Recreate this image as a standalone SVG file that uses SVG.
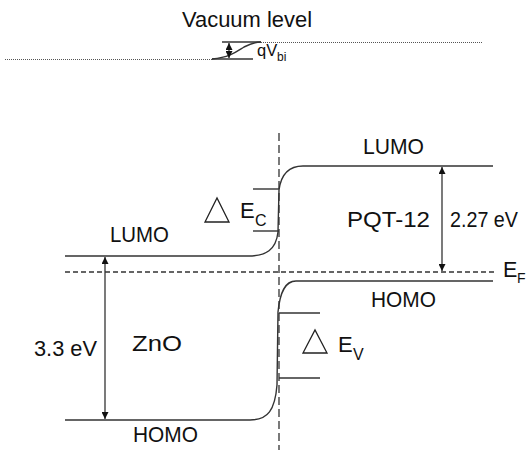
<svg xmlns="http://www.w3.org/2000/svg" width="530" height="450" viewBox="0 0 530 450">
<style>
text{font-family:"Liberation Sans",Arial,sans-serif;fill:#111}
.t{font-size:21.5px}
.s{font-size:14px}
.ln{fill:none;stroke:#333;stroke-width:1.4}
.dot{fill:none;stroke:#555;stroke-width:1;stroke-dasharray:1 1}
.dash{fill:none;stroke:#333;stroke-width:1.3;stroke-dasharray:5 3}
.vdash{fill:none;stroke:#333;stroke-width:1.3;stroke-dasharray:8 4}
.arr{fill:none;stroke:#333;stroke-width:1.3;marker-start:url(#ah);marker-end:url(#ah)}
.tri{fill:none;stroke:#222;stroke-width:1.3}
</style>
<defs>
<marker id="ah" viewBox="0 0 10 10" refX="10" refY="5" markerWidth="7" markerHeight="7" markerUnits="userSpaceOnUse" orient="auto-start-reverse">
<path d="M0,0 L10,5 L0,10 z" fill="#111"/>
</marker>
</defs>
<g id="vacuum">
<text class="t" x="182" y="27" textLength="130" lengthAdjust="spacingAndGlyphs">Vacuum level</text>
<line class="dot" x1="5" y1="59.5" x2="212" y2="59.5"/>
<line class="dot" x1="261" y1="42.5" x2="483" y2="42.5"/>
<line class="ln" x1="212" y1="59" x2="253" y2="59"/>
<line class="ln" x1="222" y1="42" x2="261" y2="42"/>
<path class="ln" d="M212,59 C230,57 236,52 244,47 C250,44 254,42 261,42"/>
<line class="arr" x1="229" y1="43" x2="229" y2="58"/>
<text x="257" y="56" font-size="16.5">qV</text>
<text x="277" y="61" font-size="12">bi</text>
</g>
<g id="connectors">
<line class="vdash" x1="279" y1="133" x2="279" y2="450"/>
<line class="dash" x1="65" y1="272" x2="494" y2="272"/>
<path class="ln" d="M65,256 H248 C266,256 276,250 278,232 L279,190 C281,175 288,166 303,166 H493"/>
<path class="ln" d="M65,420 H250 C268,420 275,410 277,385 L278,312 C280,292 285,281 296,281 H493"/>
<line class="ln" x1="253" y1="189" x2="279" y2="189"/>
<line class="ln" x1="253" y1="231" x2="279" y2="231"/>
<line class="ln" x1="279" y1="313" x2="320" y2="313"/>
<line class="ln" x1="279" y1="378" x2="320" y2="378"/>
<line class="arr" x1="105" y1="257" x2="105" y2="419"/>
<line class="arr" x1="442" y1="167" x2="442" y2="271"/>
</g>
<g id="zno">
<text class="t" x="110" y="242" textLength="59" lengthAdjust="spacingAndGlyphs">LUMO</text>
<text class="t" x="132" y="351" textLength="50" lengthAdjust="spacingAndGlyphs">ZnO</text>
<text class="t" x="34" y="356" textLength="63" lengthAdjust="spacingAndGlyphs">3.3 eV</text>
<text class="t" x="133" y="442" textLength="65" lengthAdjust="spacingAndGlyphs">HOMO</text>
</g>
<g id="pqt">
<text class="t" x="363" y="154" textLength="61" lengthAdjust="spacingAndGlyphs">LUMO</text>
<text class="t" x="347" y="227" textLength="83" lengthAdjust="spacingAndGlyphs">PQT-12</text>
<text class="t" x="450" y="227" textLength="68" lengthAdjust="spacingAndGlyphs">2.27 eV</text>
<text class="t" x="371" y="307" textLength="65" lengthAdjust="spacingAndGlyphs">HOMO</text>
</g>
<g id="ef">
<text class="t" x="503" y="277">E</text>
<text class="s" x="517" y="283">F</text>
</g>
<g id="dec">
<polygon class="tri" points="205,222 229,222 217,198"/>
<text x="240" y="218" font-size="22">E</text>
<text x="255" y="226" font-size="16">C</text>
</g>
<g id="dev">
<polygon class="tri" points="303,353 327,353 315,330"/>
<text x="338" y="352" font-size="22">E</text>
<text x="353" y="360" font-size="16">V</text>
</g>
</svg>
